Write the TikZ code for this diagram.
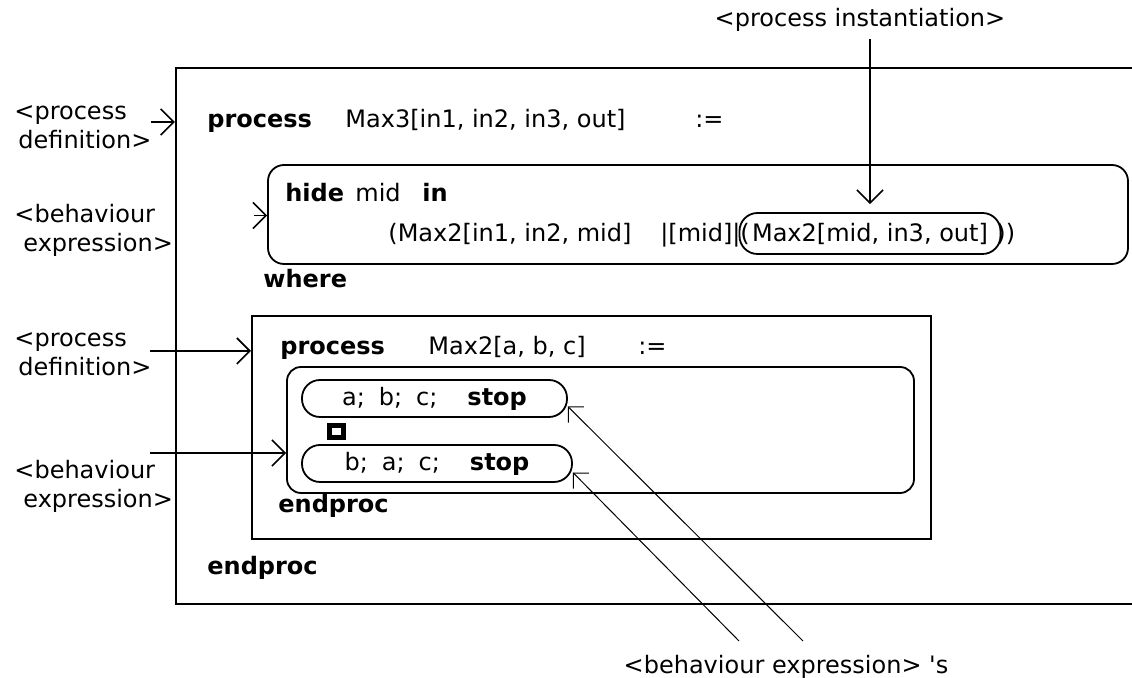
\documentclass[tikz,border=0pt]{standalone}
\usepackage{fontspec}
\setmainfont{DejaVu Sans}
\usetikzlibrary{arrows.meta,positioning,fit}
\tikzset{
  kw/.style={font=\fontsize{12}{14.5}\selectfont\bfseries, anchor=base west, inner sep=0pt},
  txt/.style={anchor=base west, inner sep=0pt},
  lbl/.style={align=left, anchor=north west, inner sep=0pt},
  frame/.style={draw, line width=1.2pt, inner sep=0pt},
  rbox/.style={draw, line width=0.9pt, rounded corners=8pt, inner sep=0pt},
  pill/.style={draw, line width=0.9pt, rounded corners=9pt, inner sep=0pt, minimum height=18.5pt},
  arr/.style={-{Straight Barb[length=6.5pt,width=13pt]}, line width=0.8pt},
  thinarr/.style={-{Straight Barb[length=5.5pt,width=11pt]}, line width=0.5pt}
}

\begin{document}
\begin{tikzpicture}[x=0.5pt, y=-0.5pt, font=\fontsize{12}{14.5}\selectfont]
            \useasboundingbox (0,0) rectangle (1132,678);
            \clip (0,0) rectangle (1132,678);

            % Outer process Max3
            \node[frame, fit={(176,68) (1150,604)}] (outer) {};
            \node[kw] (proc1) at (207,128) {process};
            \node[txt] (sig1) at (345,128) {Max3[in1, in2, in3, out]};
            \node[txt] (def1) at (695,128) {:=};

            % hide ... in
            \node[rbox, fit={(268,165) (1128,264)}] (hidebox) {};
            \node[kw] (hidekw) at (285,202) {hide};
            \node[txt] (hidevar) at (355,202) {mid};
            \node[kw] (inkw) at (422,202) {in};
            \node[txt] (par1) at (388,242) {(Max2[in1, in2, mid]};
            \node[txt] (sync) at (660,242) {|[mid]|};
            \node[txt] (lpar) at (740,242) {(};
            \node[pill, minimum width=130.5pt, minimum height=20.5pt] (maxoval) at (870,233.5) {Max2[mid, in3, out]};
            \node[txt] (rpar) at (996,242) {))};
            \node[kw] (where) at (263,288) {where};

            % Inner process Max2
            \node[frame, line width=1pt, fit={(252,316) (931,539)}] (inner) {};
            \node[kw] (proc2) at (280,355) {process};
            \node[txt] (sig2) at (428,355) {Max2[a, b, c]};
            \node[txt] (def2) at (638,355) {:=};
            \node[rbox, rounded corners=7pt, fit={(287,367) (914,493)}] (choice) {};
            \node[pill, minimum width=132.5pt] (pill1) at (434.5,398.5) {a;\hspace{7pt}b;\hspace{7pt}c;\hspace{15pt}\textbf{stop}};
            \draw[line width=2.5pt] (329,426) rectangle (343,438);
            \node[pill, minimum width=135pt] (pill2) at (437,463.5) {b;\hspace{7pt}a;\hspace{7pt}c;\hspace{15pt}\textbf{stop}};
            \node[kw] (end2) at (278,513) {endproc};
            \node[kw] (end1) at (207,575) {endproc};

            % Labels
            \node[lbl] (pdef1) at (14,105) {<process\\\hspace*{2pt}definition>};
            \node[lbl] (bexp1) at (14,204) {<behaviour\\\hspace*{4.5pt}expression>};
            \node[lbl] (pdef2) at (14,332) {<process\\\hspace*{2pt}definition>};
            \node[lbl] (bexp2) at (14,460) {<behaviour\\\hspace*{4.5pt}expression>};
            \node[txt, anchor=base] (pinst) at (860,27) {<process instantiation>};
            \node[txt, anchor=base] (bexps) at (786,674) {<behaviour expression> \textquotesingle s};

            % Arrows
            \coordinate (pdef1tail) at (151,122);
            \coordinate (bexp1tail) at (254,215.5);
            \coordinate (pdef2tail) at (150,351);
            \coordinate (bexp2tail) at (150,453);
            \coordinate (bexps1) at (803,641);
            \coordinate (bexps2) at (739,641);
            \draw[arr] (pdef1tail) -- (pdef1tail -| outer.west);
            \draw[arr] (bexp1tail) -- (bexp1tail -| hidebox.west);
            \draw[arr] (pdef2tail) -- (pdef2tail -| inner.west);
            \draw[arr] (bexp2tail) -- (bexp2tail -| choice.west);
            \draw[arr, shorten <=3.5pt] (pinst.south -| maxoval.north) -- ([yshift=4pt]maxoval.north);
            \draw[thinarr] (bexps1) -- ([yshift=-4pt]pill1.east);
            \draw[thinarr] (bexps2) -- ([yshift=-4.5pt]pill2.east);
        \end{tikzpicture}
\end{document}
